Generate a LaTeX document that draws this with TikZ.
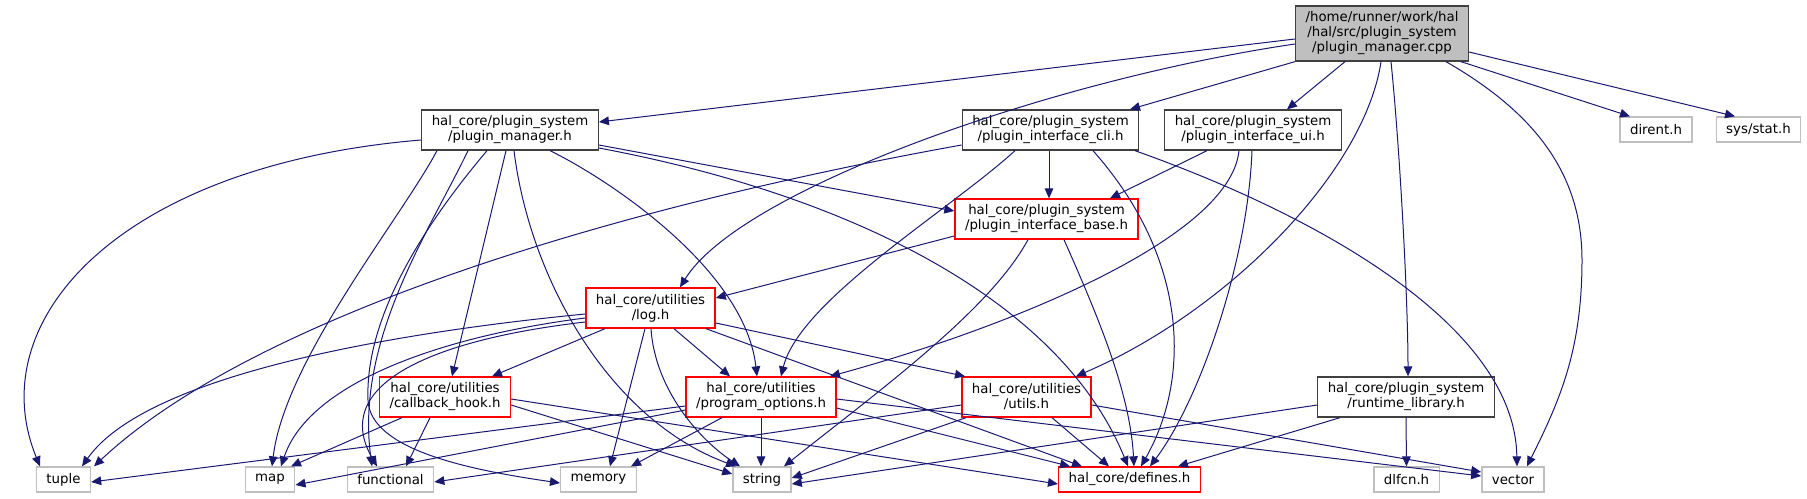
\documentclass[tikz,border=0pt]{standalone}
\usepackage{fontspec}
\setmainfont{DejaVu Sans}
\usetikzlibrary{arrows.meta}
\definecolor{edgeblue}{HTML}{191970}
\definecolor{boxgrey}{HTML}{404040}
\definecolor{leafgrey}{HTML}{BFBFBF}
\definecolor{rootfill}{HTML}{BFBFBF}
\newcommand\dfont{\fontsize{10pt}{11.25pt}\selectfont}
\tikzset{
  nbox/.style={rectangle, draw, line width=1pt, font=\dfont, align=center, inner xsep=7.5pt, inner ysep=0pt, text=black},
  rootbox/.style={nbox, draw=boxgrey, fill=rootfill, minimum height=41.25pt},
  normbox/.style={nbox, draw=boxgrey, minimum height=30pt},
  redbox/.style={nbox, draw=red, minimum height=30pt},
  redone/.style={nbox, draw=red, minimum height=18.75pt},
  leafbox/.style={nbox, draw=leafgrey, minimum height=18.75pt},
  conn/.style={draw=edgeblue, line width=0.75pt, -{Triangle[length=7.5pt,width=6.5pt]}}
}
\begin{document}
\begin{tikzpicture}[x=0.75pt,y=-0.75pt]
\useasboundingbox (0,0) rectangle (1807,499);
% nodes
\node[rootbox] (root) at (1382,33.5) {/home/runner/work/hal\\/hal/src/plugin\_system\\/plugin\_manager.cpp};
\node[normbox] (pm) at (510,130) {hal\_core/plugin\_system\\/plugin\_manager.h};
\node[normbox] (cli) at (1050.5,130) {hal\_core/plugin\_system\\/plugin\_interface\_cli.h};
\node[normbox] (ui) at (1253,130) {hal\_core/plugin\_system\\/plugin\_interface\_ui.h};
\node[leafbox] (dirent) at (1656,129.5) {dirent.h};
\node[leafbox] (stat) at (1758.5,129.5) {sys/stat.h};
\node[redbox] (base) at (1046.5,219) {hal\_core/plugin\_system\\/plugin\_interface\_base.h};
\node[redbox] (log) at (650.5,308) {hal\_core/utilities\\/log.h};
\node[redbox] (callback) at (445,397) {hal\_core/utilities\\/callback\_hook.h};
\node[redbox] (progopt) at (761,397) {hal\_core/utilities\\/program\_options.h};
\node[redbox] (utils) at (1026.5,397) {hal\_core/utilities\\/utils.h};
\node[normbox] (runtime) at (1406,397) {hal\_core/plugin\_system\\/runtime\_library.h};
\node[leafbox] (tuple) at (63.5,479.5) {tuple};
\node[leafbox] (map) at (270,479.5) {map};
\node[leafbox] (functional) at (390.5,479.5) {functional};
\node[leafbox] (memory) at (598.5,479.5) {memory};
\node[leafbox] (string) at (762,479.5) {string};
\node[redone] (defines) at (1129.5,479.5) {hal\_core/defines.h};
\node[leafbox] (dlfcn) at (1406.5,479.5) {dlfcn.h};
\node[leafbox] (vector) at (1513,479.5) {vector};
% root edges
\draw[conn] (root.west |- 0,39) -- (pm.east |- 0,122);
\draw[conn] (root.west |- 0,44) .. controls (1050,80) and (740,190) .. (680,0 |- log.north);
\draw[conn] (root.south west) -- (1130,0 |- cli.north);
\draw[conn] (1345,0 |- root.south) -- (1287,0 |- ui.north);
\draw[conn] (1381,0 |- root.south) .. controls (1365,170) and (1230,310) .. (1076,0 |- utils.north);
\draw[conn] (1391,0 |- root.south) .. controls (1400,150) and (1408,300) .. (1408,0 |- runtime.north);
\draw[conn] (1446,0 |- root.south) .. controls (1530,110) and (1582,170) .. (1582,260) .. controls (1582,350) and (1560,400) .. (1527,0 |- vector.north);
\draw[conn] (1461,0 |- root.south) -- (1630,0 |- dirent.north);
\draw[conn] (root.east |- 0,52) -- (1735,0 |- stat.north);
% plugin_manager.h edges
\draw[conn] (pm.west |- 0,140) .. controls (120,165) and (-20,320) .. (40,0 |- tuple.north);
\draw[conn] (437,0 |- pm.south) .. controls (400,220) and (285,360) .. (272,0 |- map.north);
\draw[conn] (468,0 |- pm.south) .. controls (430,230) and (355,340) .. (372,0 |- functional.north);
\draw[conn] (487,0 |- pm.south) .. controls (420,230) and (365,320) .. (368,400) .. controls (370,450) and (470,470) .. (memory.west |- 0,483);
\draw[conn] (506,0 |- pm.south) -- (452,0 |- callback.north);
\draw[conn] (514,0 |- pm.south) .. controls (530,280) and (610,420) .. (736,0 |- string.north);
\draw[conn] (550,0 |- pm.south) .. controls (610,180) and (745,270) .. (757,0 |- progopt.north);
\draw[conn] (pm.east |- 0,145) -- (base.west |- 0,211);
\draw[conn] (pm.east |- 0,148) .. controls (850,195) and (1060,300) .. (1128,0 |- defines.north);
% cli edges
\draw[conn] (cli.west |- 0,145) .. controls (600,210) and (250,320) .. (94,0 |- tuple.north);
\draw[conn] (1015,0 |- cli.south) .. controls (950,210) and (800,300) .. (781,0 |- progopt.north);
\draw[conn] (1049,0 |- cli.south) -- (1049,0 |- base.north);
\draw[conn] (1093,0 |- cli.south) .. controls (1190,260) and (1190,380) .. (1141,0 |- defines.north);
\draw[conn] (1135,0 |- cli.south) .. controls (1330,220) and (1515,330) .. (1517,0 |- vector.north);
% ui edges
\draw[conn] (1207,0 |- ui.south) -- (1110,0 |- base.north);
\draw[conn] (1239,0 |- ui.south) .. controls (1230,240) and (1000,330) .. (830,0 |- progopt.north);
\draw[conn] (1252,0 |- ui.south) .. controls (1248,260) and (1200,400) .. (1150,0 |- defines.north);
% base edges
\draw[conn] (base.west |- 0,236) -- (log.east |- 0,298);
\draw[conn] (1028,0 |- base.south) .. controls (990,310) and (880,390) .. (784,0 |- string.north);
\draw[conn] (1064,0 |- base.south) .. controls (1095,310) and (1130,390) .. (1134,0 |- defines.north);
% log edges
\draw[conn] (log.west |- 0,314) .. controls (420,330) and (150,370) .. (82,0 |- tuple.north);
\draw[conn] (log.west |- 0,318) .. controls (450,335) and (310,380) .. (281,0 |- map.north);
\draw[conn] (log.west |- 0,322) .. controls (430,340) and (330,385) .. (377,0 |- functional.north);
\draw[conn] (605,0 |- log.south) -- (492,0 |- callback.north);
\draw[conn] (645,0 |- log.south) -- (610,0 |- memory.north);
\draw[conn] (651,0 |- log.south) .. controls (655,390) and (700,440) .. (740,0 |- string.north);
\draw[conn] (674,0 |- log.south) -- (730,0 |- progopt.north);
\draw[conn] (706,0 |- log.south) -- (1082,0 |- defines.north);
\draw[conn] (log.east |- 0,323) -- (965,0 |- utils.north);
% callback edges
\draw[conn] (402,0 |- callback.south) -- (291,0 |- map.north);
\draw[conn] (430,0 |- callback.south) -- (406,0 |- functional.north);
\draw[conn] (callback.east |- 0,405) -- (string.west |- 0,474);
\draw[conn] (callback.east |- 0,399) -- (defines.west |- 0,484);
% program_options edges
\draw[conn] (progopt.west |- 0,406) -- (tuple.east |- 0,482);
\draw[conn] (progopt.west |- 0,410) -- (map.east |- 0,485);
\draw[conn] (722,0 |- progopt.south) -- (631,0 |- memory.north);
\draw[conn] (761,0 |- progopt.south) -- (761,0 |- string.north);
\draw[conn] (progopt.east |- 0,408) -- (1070,0 |- defines.north);
\draw[conn] (progopt.east |- 0,399) -- (vector.west |- 0,476);
% utils edges
\draw[conn] (utils.west |- 0,405) -- (functional.east |- 0,482);
\draw[conn] (966,0 |- utils.south) -- (string.east |- 0,478);
\draw[conn] (1052,0 |- utils.south) -- (1109,0 |- defines.north);
\draw[conn] (utils.east |- 0,405) -- (vector.west |- 0,472);
% runtime edges
\draw[conn] (runtime.west |- 0,405) -- (string.east |- 0,484);
\draw[conn] (1340,0 |- runtime.south) -- (1178,0 |- defines.north);
\draw[conn] (runtime.south) -- (dlfcn.north);
\end{tikzpicture}
\end{document}
